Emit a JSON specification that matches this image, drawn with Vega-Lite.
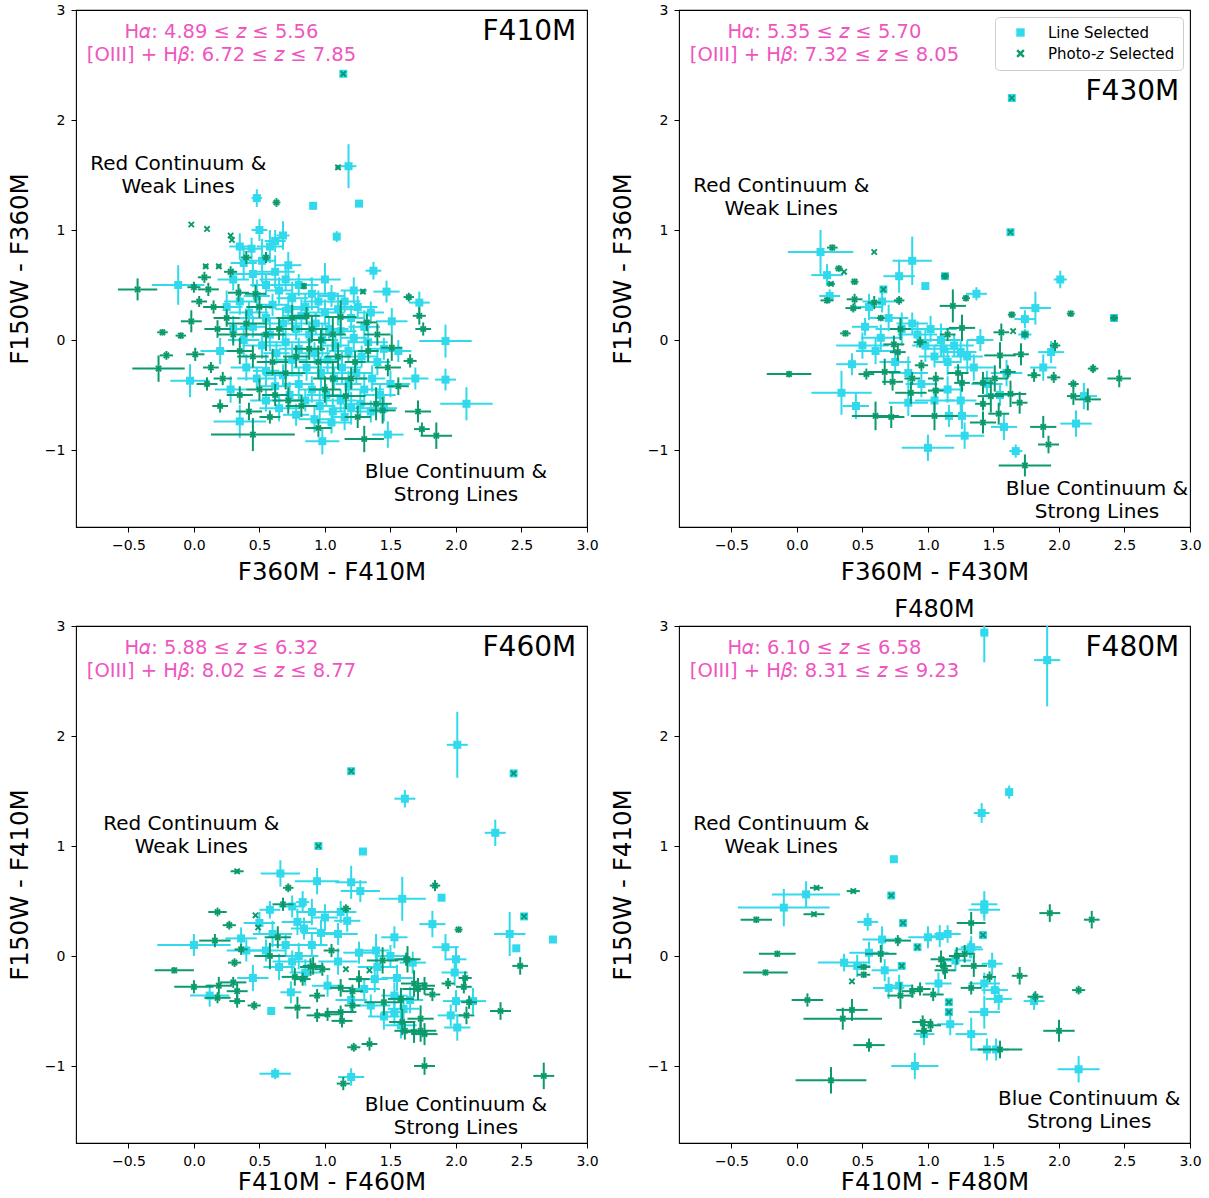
{
"$schema":"https://vega.github.io/schema/vega-lite/v6.json",
"padding":{"left":6,"top":2,"right":10,"bottom":0},
"background":"white",
"datasets":{
"pts":[
{"p":1,"t":"L","x":1.14,"y":2.42,"xe":0.02,"ye":0.03},
{"p":1,"t":"L","x":1.18,"y":1.58,"xe":0.06,"ye":0.2},
{"p":1,"t":"L","x":0.48,"y":1.29,"xe":0.04,"ye":0.08},
{"p":1,"t":"L","x":0.91,"y":1.22,"xe":0,"ye":0},
{"p":1,"t":"L","x":1.26,"y":1.24,"xe":0.02,"ye":0.03},
{"p":1,"t":"L","x":1.09,"y":0.94,"xe":0.02,"ye":0.05},
{"p":1,"t":"L","x":0.68,"y":0.95,"xe":0.05,"ye":0.13},
{"p":1,"t":"L","x":0.44,"y":0.83,"xe":0.08,"ye":0.1},
{"p":1,"t":"L","x":1.37,"y":0.63,"xe":0.06,"ye":0.08},
{"p":1,"t":"L","x":0.72,"y":0.68,"xe":0.1,"ye":0.12},
{"p":1,"t":"L","x":-0.12,"y":0.5,"xe":0.2,"ye":0.18},
{"p":1,"t":"L","x":1.47,"y":0.44,"xe":0.1,"ye":0.1},
{"p":1,"t":"L","x":1.72,"y":0.34,"xe":0.08,"ye":0.1},
{"p":1,"t":"L","x":1.51,"y":0.17,"xe":0.12,"ye":0.12},
{"p":1,"t":"L","x":1.92,"y":-0.01,"xe":0.2,"ye":0.15},
{"p":1,"t":"L","x":1.56,"y":-0.1,"xe":0.1,"ye":0.1},
{"p":1,"t":"L","x":1.69,"y":-0.35,"xe":0.1,"ye":0.1},
{"p":1,"t":"L","x":1.92,"y":-0.36,"xe":0.08,"ye":0.1},
{"p":1,"t":"L","x":2.08,"y":-0.58,"xe":0.2,"ye":0.15},
{"p":1,"t":"L","x":1.48,"y":-0.86,"xe":0.12,"ye":0.12},
{"p":1,"t":"L","x":0.98,"y":-0.92,"xe":0.13,"ye":0.12},
{"p":1,"t":"L","x":-0.03,"y":-0.37,"xe":0.15,"ye":0.15},
{"p":1,"t":"L","x":0.35,"y":-0.74,"xe":0.2,"ye":0.15},
{"p":1,"t":"L","x":0.30,"y":0.55,"xe":0.12,"ye":0.1},
{"p":1,"t":"L","x":0.38,"y":0.70,"xe":0.1,"ye":0.15},
{"p":1,"t":"L","x":0.45,"y":0.60,"xe":0.15,"ye":0.12},
{"p":1,"t":"L","x":0.52,"y":0.72,"xe":0.1,"ye":0.2},
{"p":1,"t":"L","x":0.55,"y":0.50,"xe":0.12,"ye":0.1},
{"p":1,"t":"L","x":0.62,"y":0.62,"xe":0.15,"ye":0.15},
{"p":1,"t":"L","x":0.65,"y":0.45,"xe":0.1,"ye":0.12},
{"p":1,"t":"L","x":0.70,"y":0.55,"xe":0.2,"ye":0.1},
{"p":1,"t":"L","x":0.75,"y":0.38,"xe":0.12,"ye":0.15},
{"p":1,"t":"L","x":0.80,"y":0.50,"xe":0.15,"ye":0.1},
{"p":1,"t":"L","x":0.85,"y":0.30,"xe":0.1,"ye":0.12},
{"p":1,"t":"L","x":0.90,"y":0.42,"xe":0.2,"ye":0.15},
{"p":1,"t":"L","x":0.95,"y":0.35,"xe":0.12,"ye":0.1},
{"p":1,"t":"L","x":1.00,"y":0.25,"xe":0.15,"ye":0.12},
{"p":1,"t":"L","x":1.05,"y":0.40,"xe":0.1,"ye":0.1},
{"p":1,"t":"L","x":1.10,"y":0.28,"xe":0.15,"ye":0.15},
{"p":1,"t":"L","x":1.15,"y":0.35,"xe":0.12,"ye":0.1},
{"p":1,"t":"L","x":1.20,"y":0.20,"xe":0.1,"ye":0.12},
{"p":1,"t":"L","x":1.25,"y":0.30,"xe":0.15,"ye":0.1},
{"p":1,"t":"L","x":1.30,"y":0.12,"xe":0.12,"ye":0.15},
{"p":1,"t":"L","x":1.35,"y":0.25,"xe":0.1,"ye":0.1},
{"p":1,"t":"L","x":0.35,"y":0.35,"xe":0.12,"ye":0.12},
{"p":1,"t":"L","x":0.42,"y":0.25,"xe":0.15,"ye":0.1},
{"p":1,"t":"L","x":0.48,"y":0.40,"xe":0.1,"ye":0.15},
{"p":1,"t":"L","x":0.55,"y":0.20,"xe":0.2,"ye":0.12},
{"p":1,"t":"L","x":0.60,"y":0.32,"xe":0.12,"ye":0.1},
{"p":1,"t":"L","x":0.68,"y":0.15,"xe":0.15,"ye":0.15},
{"p":1,"t":"L","x":0.72,"y":0.28,"xe":0.1,"ye":0.12},
{"p":1,"t":"L","x":0.78,"y":0.10,"xe":0.12,"ye":0.1},
{"p":1,"t":"L","x":0.82,"y":0.22,"xe":0.15,"ye":0.15},
{"p":1,"t":"L","x":0.88,"y":0.05,"xe":0.2,"ye":0.12},
{"p":1,"t":"L","x":0.93,"y":0.15,"xe":0.1,"ye":0.1},
{"p":1,"t":"L","x":0.98,"y":0.00,"xe":0.12,"ye":0.15},
{"p":1,"t":"L","x":1.03,"y":0.10,"xe":0.15,"ye":0.1},
{"p":1,"t":"L","x":1.08,"y":-0.05,"xe":0.1,"ye":0.12},
{"p":1,"t":"L","x":1.12,"y":0.08,"xe":0.12,"ye":0.15},
{"p":1,"t":"L","x":1.18,"y":-0.10,"xe":0.15,"ye":0.1},
{"p":1,"t":"L","x":1.22,"y":0.02,"xe":0.1,"ye":0.12},
{"p":1,"t":"L","x":1.28,"y":-0.15,"xe":0.12,"ye":0.1},
{"p":1,"t":"L","x":1.33,"y":-0.02,"xe":0.15,"ye":0.15},
{"p":1,"t":"L","x":1.40,"y":-0.20,"xe":0.1,"ye":0.12},
{"p":1,"t":"L","x":1.45,"y":-0.08,"xe":0.12,"ye":0.1},
{"p":1,"t":"L","x":0.30,"y":0.10,"xe":0.15,"ye":0.12},
{"p":1,"t":"L","x":0.38,"y":0.00,"xe":0.12,"ye":0.15},
{"p":1,"t":"L","x":0.45,"y":0.12,"xe":0.1,"ye":0.1},
{"p":1,"t":"L","x":0.52,"y":-0.05,"xe":0.15,"ye":0.12},
{"p":1,"t":"L","x":0.58,"y":0.05,"xe":0.12,"ye":0.15},
{"p":1,"t":"L","x":0.63,"y":-0.12,"xe":0.1,"ye":0.1},
{"p":1,"t":"L","x":0.70,"y":-0.02,"xe":0.2,"ye":0.12},
{"p":1,"t":"L","x":0.75,"y":-0.18,"xe":0.12,"ye":0.15},
{"p":1,"t":"L","x":0.80,"y":-0.08,"xe":0.15,"ye":0.1},
{"p":1,"t":"L","x":0.86,"y":-0.25,"xe":0.1,"ye":0.12},
{"p":1,"t":"L","x":0.92,"y":-0.12,"xe":0.12,"ye":0.1},
{"p":1,"t":"L","x":0.97,"y":-0.30,"xe":0.15,"ye":0.15},
{"p":1,"t":"L","x":1.02,"y":-0.18,"xe":0.1,"ye":0.12},
{"p":1,"t":"L","x":1.07,"y":-0.35,"xe":0.12,"ye":0.1},
{"p":1,"t":"L","x":1.13,"y":-0.25,"xe":0.15,"ye":0.15},
{"p":1,"t":"L","x":1.18,"y":-0.40,"xe":0.1,"ye":0.12},
{"p":1,"t":"L","x":1.24,"y":-0.30,"xe":0.12,"ye":0.1},
{"p":1,"t":"L","x":1.30,"y":-0.45,"xe":0.15,"ye":0.15},
{"p":1,"t":"L","x":1.36,"y":-0.35,"xe":0.1,"ye":0.12},
{"p":1,"t":"L","x":1.42,"y":-0.50,"xe":0.12,"ye":0.1},
{"p":1,"t":"L","x":1.50,"y":-0.40,"xe":0.15,"ye":0.12},
{"p":1,"t":"L","x":0.40,"y":-0.25,"xe":0.12,"ye":0.12},
{"p":1,"t":"L","x":0.48,"y":-0.35,"xe":0.15,"ye":0.1},
{"p":1,"t":"L","x":0.55,"y":-0.28,"xe":0.1,"ye":0.15},
{"p":1,"t":"L","x":0.62,"y":-0.42,"xe":0.12,"ye":0.12},
{"p":1,"t":"L","x":0.68,"y":-0.32,"xe":0.15,"ye":0.1},
{"p":1,"t":"L","x":0.73,"y":-0.50,"xe":0.1,"ye":0.12},
{"p":1,"t":"L","x":0.80,"y":-0.40,"xe":0.12,"ye":0.15},
{"p":1,"t":"L","x":0.85,"y":-0.55,"xe":0.15,"ye":0.1},
{"p":1,"t":"L","x":0.90,"y":-0.45,"xe":0.1,"ye":0.12},
{"p":1,"t":"L","x":0.96,"y":-0.60,"xe":0.12,"ye":0.15},
{"p":1,"t":"L","x":1.01,"y":-0.50,"xe":0.15,"ye":0.1},
{"p":1,"t":"L","x":1.06,"y":-0.65,"xe":0.1,"ye":0.12},
{"p":1,"t":"L","x":1.12,"y":-0.55,"xe":0.12,"ye":0.1},
{"p":1,"t":"L","x":1.20,"y":-0.62,"xe":0.15,"ye":0.15},
{"p":1,"t":"L","x":1.27,"y":-0.58,"xe":0.1,"ye":0.12},
{"p":1,"t":"L","x":1.35,"y":-0.65,"xe":0.12,"ye":0.1},
{"p":1,"t":"L","x":1.45,"y":-0.62,"xe":0.1,"ye":0.12},
{"p":1,"t":"L","x":0.55,"y":-0.55,"xe":0.12,"ye":0.1},
{"p":1,"t":"L","x":0.65,"y":-0.62,"xe":0.15,"ye":0.12},
{"p":1,"t":"L","x":0.78,"y":-0.68,"xe":0.1,"ye":0.1},
{"p":1,"t":"L","x":0.92,"y":-0.72,"xe":0.12,"ye":0.12},
{"p":1,"t":"L","x":1.05,"y":-0.75,"xe":0.15,"ye":0.1},
{"p":1,"t":"L","x":1.15,"y":-0.70,"xe":0.1,"ye":0.12},
{"p":1,"t":"L","x":0.35,"y":0.85,"xe":0.08,"ye":0.12},
{"p":1,"t":"L","x":0.58,"y":0.85,"xe":0.1,"ye":0.15},
{"p":1,"t":"L","x":0.25,"y":0.30,"xe":0.12,"ye":0.15},
{"p":1,"t":"L","x":0.20,"y":-0.10,"xe":0.15,"ye":0.12},
{"p":1,"t":"L","x":0.28,"y":-0.45,"xe":0.12,"ye":0.12},
{"p":1,"t":"L","x":0.62,"y":0.90,"xe":0.08,"ye":0.1},
{"p":1,"t":"L","x":0.50,"y":1.00,"xe":0.06,"ye":0.1},
{"p":1,"t":"L","x":1.00,"y":0.55,"xe":0.12,"ye":0.15},
{"p":1,"t":"L","x":1.22,"y":0.45,"xe":0.1,"ye":0.12},
{"p":1,"t":"P","x":1.14,"y":2.42,"xe":0.01,"ye":0.01},
{"p":1,"t":"P","x":1.10,"y":1.57,"xe":0.02,"ye":0.02},
{"p":1,"t":"P","x":0.63,"y":1.25,"xe":0.03,"ye":0.04},
{"p":1,"t":"P","x":-0.02,"y":1.05,"xe":0,"ye":0},
{"p":1,"t":"P","x":0.10,"y":1.01,"xe":0,"ye":0},
{"p":1,"t":"P","x":0.28,"y":0.95,"xe":0,"ye":0},
{"p":1,"t":"P","x":0.29,"y":0.91,"xe":0,"ye":0},
{"p":1,"t":"P","x":0.55,"y":0.75,"xe":0.03,"ye":0.05},
{"p":1,"t":"P","x":0.09,"y":0.67,"xe":0.02,"ye":0.02},
{"p":1,"t":"P","x":0.19,"y":0.67,"xe":0.02,"ye":0.02},
{"p":1,"t":"P","x":-0.43,"y":0.46,"xe":0.15,"ye":0.1},
{"p":1,"t":"P","x":0.08,"y":0.57,"xe":0.05,"ye":0.05},
{"p":1,"t":"P","x":0.00,"y":0.48,"xe":0.05,"ye":0.05},
{"p":1,"t":"P","x":0.11,"y":0.46,"xe":0.08,"ye":0.06},
{"p":1,"t":"P","x":0.34,"y":0.43,"xe":0.08,"ye":0.08},
{"p":1,"t":"P","x":0.47,"y":0.42,"xe":0.08,"ye":0.08},
{"p":1,"t":"P","x":0.04,"y":0.35,"xe":0.06,"ye":0.05},
{"p":1,"t":"P","x":-0.02,"y":0.17,"xe":0.08,"ye":0.1},
{"p":1,"t":"P","x":-0.24,"y":0.07,"xe":0.04,"ye":0.03},
{"p":1,"t":"P","x":-0.10,"y":0.04,"xe":0.04,"ye":0.03},
{"p":1,"t":"P","x":-0.21,"y":-0.14,"xe":0.05,"ye":0.04},
{"p":1,"t":"P","x":0.01,"y":-0.13,"xe":0.07,"ye":0.06},
{"p":1,"t":"P","x":-0.27,"y":-0.26,"xe":0.2,"ye":0.12},
{"p":1,"t":"P","x":0.13,"y":-0.25,"xe":0.06,"ye":0.05},
{"p":1,"t":"P","x":0.22,"y":-0.35,"xe":0.07,"ye":0.06},
{"p":1,"t":"P","x":0.42,"y":-0.65,"xe":0.1,"ye":0.08},
{"p":1,"t":"P","x":0.45,"y":-0.86,"xe":0.32,"ye":0.15},
{"p":1,"t":"P","x":1.29,"y":0.44,"xe":0.02,"ye":0.02},
{"p":1,"t":"P","x":1.64,"y":0.39,"xe":0.04,"ye":0.04},
{"p":1,"t":"P","x":1.72,"y":0.22,"xe":0.05,"ye":0.08},
{"p":1,"t":"P","x":1.75,"y":0.10,"xe":0.06,"ye":0.06},
{"p":1,"t":"P","x":1.32,"y":0.16,"xe":0.08,"ye":0.08},
{"p":1,"t":"P","x":1.51,"y":-0.07,"xe":0.08,"ye":0.12},
{"p":1,"t":"P","x":1.65,"y":-0.19,"xe":0.05,"ye":0.06},
{"p":1,"t":"P","x":1.56,"y":-0.42,"xe":0.08,"ye":0.08},
{"p":1,"t":"P","x":1.71,"y":-0.65,"xe":0.1,"ye":0.1},
{"p":1,"t":"P","x":1.74,"y":-0.81,"xe":0.06,"ye":0.06},
{"p":1,"t":"P","x":1.85,"y":-0.87,"xe":0.12,"ye":0.12},
{"p":1,"t":"P","x":1.30,"y":-0.90,"xe":0.15,"ye":0.12},
{"p":1,"t":"P","x":1.44,"y":-0.64,"xe":0.1,"ye":0.12},
{"p":1,"t":"P","x":1.33,"y":-0.10,"xe":0.08,"ye":0.1},
{"p":1,"t":"P","x":1.23,"y":-0.20,"xe":0.08,"ye":0.1},
{"p":1,"t":"P","x":1.12,"y":0.21,"xe":0.12,"ye":0.15},
{"p":1,"t":"P","x":0.84,"y":0.49,"xe":0.02,"ye":0.03},
{"p":1,"t":"P","x":1.06,"y":0.05,"xe":0.1,"ye":0.15},
{"p":1,"t":"P","x":0.97,"y":0.00,"xe":0.08,"ye":0.1},
{"p":1,"t":"P","x":0.88,"y":-0.08,"xe":0.12,"ye":0.1},
{"p":1,"t":"P","x":0.86,"y":0.22,"xe":0.1,"ye":0.08},
{"p":1,"t":"P","x":1.06,"y":-0.35,"xe":0.15,"ye":0.15},
{"p":1,"t":"P","x":1.16,"y":-0.51,"xe":0.15,"ye":0.12},
{"p":1,"t":"P","x":1.39,"y":-0.58,"xe":0.12,"ye":0.15},
{"p":1,"t":"P","x":0.82,"y":-0.60,"xe":0.12,"ye":0.1},
{"p":1,"t":"P","x":0.25,"y":0.20,"xe":0.1,"ye":0.08},
{"p":1,"t":"P","x":0.30,"y":0.05,"xe":0.12,"ye":0.1},
{"p":1,"t":"P","x":0.35,"y":-0.10,"xe":0.1,"ye":0.12},
{"p":1,"t":"P","x":0.40,"y":0.15,"xe":0.15,"ye":0.12},
{"p":1,"t":"P","x":0.45,"y":-0.15,"xe":0.12,"ye":0.1},
{"p":1,"t":"P","x":0.50,"y":0.30,"xe":0.1,"ye":0.1},
{"p":1,"t":"P","x":0.55,"y":0.05,"xe":0.15,"ye":0.15},
{"p":1,"t":"P","x":0.60,"y":-0.20,"xe":0.12,"ye":0.12},
{"p":1,"t":"P","x":0.65,"y":0.10,"xe":0.1,"ye":0.1},
{"p":1,"t":"P","x":0.70,"y":-0.30,"xe":0.15,"ye":0.15},
{"p":1,"t":"P","x":0.75,"y":0.20,"xe":0.12,"ye":0.12},
{"p":1,"t":"P","x":0.78,"y":-0.15,"xe":0.1,"ye":0.1},
{"p":1,"t":"P","x":0.90,"y":0.10,"xe":0.12,"ye":0.12},
{"p":1,"t":"P","x":0.95,"y":-0.20,"xe":0.15,"ye":0.15},
{"p":1,"t":"P","x":1.00,"y":-0.45,"xe":0.12,"ye":0.12},
{"p":1,"t":"P","x":1.10,"y":-0.15,"xe":0.1,"ye":0.12},
{"p":1,"t":"P","x":1.20,"y":-0.35,"xe":0.12,"ye":0.1},
{"p":1,"t":"P","x":0.62,"y":-0.50,"xe":0.1,"ye":0.1},
{"p":1,"t":"P","x":0.72,"y":-0.55,"xe":0.12,"ye":0.12},
{"p":1,"t":"P","x":0.50,"y":-0.45,"xe":0.1,"ye":0.1},
{"p":1,"t":"P","x":0.35,"y":-0.50,"xe":0.1,"ye":0.08},
{"p":1,"t":"P","x":0.20,"y":-0.60,"xe":0.06,"ye":0.06},
{"p":1,"t":"P","x":0.28,"y":0.62,"xe":0.05,"ye":0.05},
{"p":1,"t":"P","x":0.40,"y":0.75,"xe":0.04,"ye":0.06},
{"p":1,"t":"P","x":0.15,"y":0.30,"xe":0.08,"ye":0.06},
{"p":1,"t":"P","x":0.18,"y":0.10,"xe":0.1,"ye":0.08},
{"p":1,"t":"P","x":0.10,"y":-0.40,"xe":0.08,"ye":0.06},
{"p":1,"t":"P","x":1.40,"y":0.05,"xe":0.1,"ye":0.1},
{"p":1,"t":"P","x":1.48,"y":-0.25,"xe":0.1,"ye":0.08},
{"p":1,"t":"P","x":1.25,"y":-0.70,"xe":0.1,"ye":0.1},
{"p":1,"t":"P","x":0.95,"y":-0.80,"xe":0.1,"ye":0.08},
{"p":1,"t":"P","x":0.58,"y":-0.70,"xe":0.08,"ye":0.06},
{"p":2,"t":"L","x":1.64,"y":2.20,"xe":0.02,"ye":0.03},
{"p":2,"t":"L","x":1.63,"y":0.98,"xe":0.02,"ye":0.02},
{"p":2,"t":"L","x":0.18,"y":0.80,"xe":0.25,"ye":0.2},
{"p":2,"t":"L","x":0.88,"y":0.72,"xe":0.15,"ye":0.22},
{"p":2,"t":"L","x":0.23,"y":0.59,"xe":0.12,"ye":0.1},
{"p":2,"t":"L","x":0.78,"y":0.58,"xe":0.12,"ye":0.15},
{"p":2,"t":"L","x":1.13,"y":0.58,"xe":0.02,"ye":0.02},
{"p":2,"t":"L","x":0.98,"y":0.49,"xe":0,"ye":0},
{"p":2,"t":"L","x":0.66,"y":0.46,"xe":0.02,"ye":0.02},
{"p":2,"t":"L","x":2.01,"y":0.55,"xe":0.05,"ye":0.08},
{"p":2,"t":"L","x":1.37,"y":0.42,"xe":0.08,"ye":0.06},
{"p":2,"t":"L","x":1.82,"y":0.29,"xe":0.12,"ye":0.15},
{"p":2,"t":"L","x":2.42,"y":0.20,"xe":0.02,"ye":0.02},
{"p":2,"t":"L","x":1.74,"y":0.19,"xe":0.08,"ye":0.08},
{"p":2,"t":"L","x":0.52,"y":0.12,"xe":0.1,"ye":0.08},
{"p":2,"t":"L","x":1.74,"y":0.05,"xe":0.05,"ye":0.05},
{"p":2,"t":"L","x":0.64,"y":0.02,"xe":0.15,"ye":0.12},
{"p":2,"t":"L","x":1.12,"y":-0.08,"xe":0.15,"ye":0.12},
{"p":2,"t":"L","x":1.25,"y":-0.11,"xe":0.12,"ye":0.1},
{"p":2,"t":"L","x":1.94,"y":-0.11,"xe":0.1,"ye":0.1},
{"p":2,"t":"L","x":1.88,"y":-0.25,"xe":0.1,"ye":0.12},
{"p":2,"t":"L","x":2.19,"y":-0.51,"xe":0.1,"ye":0.12},
{"p":2,"t":"L","x":0.42,"y":-0.22,"xe":0.12,"ye":0.1},
{"p":2,"t":"L","x":0.34,"y":-0.48,"xe":0.23,"ye":0.2},
{"p":2,"t":"L","x":0.85,"y":-0.57,"xe":0.15,"ye":0.12},
{"p":2,"t":"L","x":1.25,"y":-0.55,"xe":0.12,"ye":0.15},
{"p":2,"t":"L","x":1.26,"y":-0.69,"xe":0.12,"ye":0.12},
{"p":2,"t":"L","x":1.58,"y":-0.79,"xe":0.1,"ye":0.12},
{"p":2,"t":"L","x":2.13,"y":-0.76,"xe":0.12,"ye":0.12},
{"p":2,"t":"L","x":1.28,"y":-0.87,"xe":0.15,"ye":0.12},
{"p":2,"t":"L","x":1.00,"y":-0.98,"xe":0.2,"ye":0.12},
{"p":2,"t":"L","x":1.67,"y":-1.01,"xe":0.05,"ye":0.06},
{"p":2,"t":"L","x":1.16,"y":-0.69,"xe":0.1,"ye":0.1},
{"p":2,"t":"L","x":0.25,"y":0.40,"xe":0.08,"ye":0.06},
{"p":2,"t":"L","x":0.70,"y":0.20,"xe":0.15,"ye":0.12},
{"p":2,"t":"L","x":0.80,"y":0.10,"xe":0.2,"ye":0.15},
{"p":2,"t":"L","x":0.88,"y":0.15,"xe":0.12,"ye":0.1},
{"p":2,"t":"L","x":0.92,"y":0.05,"xe":0.15,"ye":0.12},
{"p":2,"t":"L","x":0.98,"y":-0.05,"xe":0.1,"ye":0.15},
{"p":2,"t":"L","x":1.02,"y":0.10,"xe":0.2,"ye":0.12},
{"p":2,"t":"L","x":1.05,"y":-0.15,"xe":0.12,"ye":0.1},
{"p":2,"t":"L","x":1.10,"y":0.00,"xe":0.15,"ye":0.15},
{"p":2,"t":"L","x":1.15,"y":-0.20,"xe":0.1,"ye":0.12},
{"p":2,"t":"L","x":1.20,"y":-0.05,"xe":0.15,"ye":0.1},
{"p":2,"t":"L","x":1.30,"y":-0.15,"xe":0.12,"ye":0.15},
{"p":2,"t":"L","x":1.35,"y":-0.25,"xe":0.15,"ye":0.12},
{"p":2,"t":"L","x":1.40,"y":0.00,"xe":0.1,"ye":0.1},
{"p":2,"t":"L","x":1.45,"y":-0.40,"xe":0.12,"ye":0.12},
{"p":2,"t":"L","x":0.60,"y":-0.10,"xe":0.15,"ye":0.12},
{"p":2,"t":"L","x":0.75,"y":-0.20,"xe":0.12,"ye":0.1},
{"p":2,"t":"L","x":0.85,"y":-0.30,"xe":0.15,"ye":0.15},
{"p":2,"t":"L","x":0.95,"y":-0.40,"xe":0.12,"ye":0.12},
{"p":2,"t":"L","x":1.05,"y":-0.55,"xe":0.15,"ye":0.1},
{"p":2,"t":"L","x":1.15,"y":-0.45,"xe":0.12,"ye":0.12},
{"p":2,"t":"L","x":0.50,"y":-0.05,"xe":0.2,"ye":0.12},
{"p":2,"t":"L","x":0.65,"y":0.35,"xe":0.15,"ye":0.1},
{"p":2,"t":"L","x":0.55,"y":0.30,"xe":0.1,"ye":0.12},
{"p":2,"t":"L","x":1.55,"y":-0.50,"xe":0.12,"ye":0.1},
{"p":2,"t":"L","x":1.60,"y":-0.30,"xe":0.12,"ye":0.12},
{"p":2,"t":"L","x":0.45,"y":-0.60,"xe":0.1,"ye":0.12},
{"p":2,"t":"P","x":1.64,"y":2.20,"xe":0,"ye":0},
{"p":2,"t":"P","x":1.63,"y":0.98,"xe":0,"ye":0},
{"p":2,"t":"P","x":0.27,"y":0.84,"xe":0.04,"ye":0.03},
{"p":2,"t":"P","x":0.59,"y":0.80,"xe":0,"ye":0},
{"p":2,"t":"P","x":0.32,"y":0.65,"xe":0.03,"ye":0.03},
{"p":2,"t":"P","x":0.36,"y":0.62,"xe":0,"ye":0},
{"p":2,"t":"P","x":0.44,"y":0.53,"xe":0.03,"ye":0.03},
{"p":2,"t":"P","x":1.13,"y":0.58,"xe":0.03,"ye":0.03},
{"p":2,"t":"P","x":0.26,"y":0.51,"xe":0.03,"ye":0.02},
{"p":2,"t":"P","x":0.66,"y":0.46,"xe":0,"ye":0},
{"p":2,"t":"P","x":1.29,"y":0.38,"xe":0.03,"ye":0.03},
{"p":2,"t":"P","x":0.23,"y":0.36,"xe":0.05,"ye":0.03},
{"p":2,"t":"P","x":0.44,"y":0.37,"xe":0.06,"ye":0.05},
{"p":2,"t":"P","x":0.43,"y":0.29,"xe":0.06,"ye":0.04},
{"p":2,"t":"P","x":0.59,"y":0.34,"xe":0.05,"ye":0.06},
{"p":2,"t":"P","x":0.78,"y":0.36,"xe":0.04,"ye":0.04},
{"p":2,"t":"P","x":1.19,"y":0.31,"xe":0.1,"ye":0.15},
{"p":2,"t":"P","x":2.09,"y":0.24,"xe":0.03,"ye":0.03},
{"p":2,"t":"P","x":2.42,"y":0.20,"xe":0.03,"ye":0.03},
{"p":2,"t":"P","x":1.64,"y":0.23,"xe":0.03,"ye":0.03},
{"p":2,"t":"P","x":0.64,"y":0.20,"xe":0.03,"ye":0.03},
{"p":2,"t":"P","x":1.26,"y":0.11,"xe":0.1,"ye":0.12},
{"p":2,"t":"P","x":1.56,"y":0.07,"xe":0.06,"ye":0.08},
{"p":2,"t":"P","x":1.65,"y":0.08,"xe":0,"ye":0},
{"p":2,"t":"P","x":1.74,"y":0.05,"xe":0.03,"ye":0.03},
{"p":2,"t":"P","x":0.37,"y":0.06,"xe":0.04,"ye":0.03},
{"p":2,"t":"P","x":0.79,"y":0.10,"xe":0.08,"ye":0.1},
{"p":2,"t":"P","x":1.15,"y":0.05,"xe":0.06,"ye":0.06},
{"p":2,"t":"P","x":0.74,"y":-0.04,"xe":0.08,"ye":0.08},
{"p":2,"t":"P","x":0.77,"y":-0.11,"xe":0.06,"ye":0.08},
{"p":2,"t":"P","x":0.94,"y":-0.02,"xe":0.05,"ye":0.05},
{"p":2,"t":"P","x":1.97,"y":-0.05,"xe":0.04,"ye":0.05},
{"p":2,"t":"P","x":1.55,"y":-0.14,"xe":0.12,"ye":0.12},
{"p":2,"t":"P","x":1.71,"y":-0.13,"xe":0.06,"ye":0.1},
{"p":2,"t":"P","x":1.96,"y":-0.34,"xe":0.05,"ye":0.05},
{"p":2,"t":"P","x":2.26,"y":-0.26,"xe":0.04,"ye":0.04},
{"p":2,"t":"P","x":2.46,"y":-0.35,"xe":0.09,"ye":0.08},
{"p":2,"t":"P","x":2.11,"y":-0.40,"xe":0.04,"ye":0.04},
{"p":2,"t":"P","x":2.11,"y":-0.51,"xe":0.05,"ye":0.08},
{"p":2,"t":"P","x":2.22,"y":-0.54,"xe":0.1,"ye":0.1},
{"p":2,"t":"P","x":-0.06,"y":-0.31,"xe":0.17,"ye":0.03},
{"p":2,"t":"P","x":0.53,"y":-0.31,"xe":0.06,"ye":0.05},
{"p":2,"t":"P","x":0.67,"y":-0.29,"xe":0.12,"ye":0.12},
{"p":2,"t":"P","x":0.73,"y":-0.38,"xe":0.08,"ye":0.08},
{"p":2,"t":"P","x":0.88,"y":-0.35,"xe":0.06,"ye":0.06},
{"p":2,"t":"P","x":0.95,"y":-0.23,"xe":0.05,"ye":0.05},
{"p":2,"t":"P","x":1.06,"y":-0.35,"xe":0.06,"ye":0.06},
{"p":2,"t":"P","x":1.23,"y":-0.30,"xe":0.08,"ye":0.08},
{"p":2,"t":"P","x":1.26,"y":-0.39,"xe":0.06,"ye":0.08},
{"p":2,"t":"P","x":1.42,"y":-0.39,"xe":0.08,"ye":0.1},
{"p":2,"t":"P","x":1.51,"y":-0.35,"xe":0.1,"ye":0.12},
{"p":2,"t":"P","x":1.61,"y":-0.29,"xe":0.06,"ye":0.06},
{"p":2,"t":"P","x":1.81,"y":-0.32,"xe":0.05,"ye":0.06},
{"p":2,"t":"P","x":0.87,"y":-0.48,"xe":0.12,"ye":0.1},
{"p":2,"t":"P","x":1.06,"y":-0.46,"xe":0.06,"ye":0.06},
{"p":2,"t":"P","x":1.48,"y":-0.51,"xe":0.1,"ye":0.15},
{"p":2,"t":"P","x":1.63,"y":-0.49,"xe":0.12,"ye":0.12},
{"p":2,"t":"P","x":1.70,"y":-0.57,"xe":0.06,"ye":0.1},
{"p":2,"t":"P","x":1.42,"y":-0.58,"xe":0.06,"ye":0.06},
{"p":2,"t":"P","x":0.60,"y":-0.69,"xe":0.18,"ye":0.13},
{"p":2,"t":"P","x":0.72,"y":-0.70,"xe":0.1,"ye":0.1},
{"p":2,"t":"P","x":1.05,"y":-0.69,"xe":0.18,"ye":0.13},
{"p":2,"t":"P","x":1.42,"y":-0.75,"xe":0.1,"ye":0.1},
{"p":2,"t":"P","x":1.54,"y":-0.67,"xe":0.08,"ye":0.1},
{"p":2,"t":"P","x":1.88,"y":-0.79,"xe":0.1,"ye":0.1},
{"p":2,"t":"P","x":1.92,"y":-0.95,"xe":0.08,"ye":0.08},
{"p":2,"t":"P","x":1.74,"y":-1.14,"xe":0.2,"ye":0.1},
{"p":3,"t":"L","x":2.01,"y":1.92,"xe":0.08,"ye":0.3},
{"p":3,"t":"L","x":1.20,"y":1.68,"xe":0.02,"ye":0.02},
{"p":3,"t":"L","x":2.44,"y":1.66,"xe":0.02,"ye":0.02},
{"p":3,"t":"L","x":1.61,"y":1.43,"xe":0.08,"ye":0.08},
{"p":3,"t":"L","x":2.30,"y":1.12,"xe":0.08,"ye":0.12},
{"p":3,"t":"L","x":0.95,"y":1.00,"xe":0.02,"ye":0.02},
{"p":3,"t":"L","x":1.29,"y":0.95,"xe":0,"ye":0},
{"p":3,"t":"L","x":1.89,"y":0.53,"xe":0,"ye":0},
{"p":3,"t":"L","x":1.59,"y":0.52,"xe":0.18,"ye":0.2},
{"p":3,"t":"L","x":2.52,"y":0.36,"xe":0.03,"ye":0.03},
{"p":3,"t":"L","x":2.74,"y":0.15,"xe":0,"ye":0},
{"p":3,"t":"L","x":2.41,"y":0.20,"xe":0.12,"ye":0.2},
{"p":3,"t":"L","x":2.46,"y":0.07,"xe":0,"ye":0},
{"p":3,"t":"L","x":0.66,"y":0.75,"xe":0.15,"ye":0.12},
{"p":3,"t":"L","x":0.94,"y":0.68,"xe":0.17,"ye":0.12},
{"p":3,"t":"L","x":1.20,"y":0.67,"xe":0.12,"ye":0.15},
{"p":3,"t":"L","x":1.27,"y":0.59,"xe":0.15,"ye":0.1},
{"p":3,"t":"L","x":0.58,"y":0.42,"xe":0.08,"ye":0.08},
{"p":3,"t":"L","x":0.83,"y":0.49,"xe":0.05,"ye":0.1},
{"p":3,"t":"L","x":0.00,"y":0.10,"xe":0.28,"ye":0.1},
{"p":3,"t":"L","x":0.36,"y":0.16,"xe":0.12,"ye":0.1},
{"p":3,"t":"L","x":0.12,"y":-0.36,"xe":0.15,"ye":0.1},
{"p":3,"t":"L","x":0.59,"y":-0.50,"xe":0,"ye":0},
{"p":3,"t":"L","x":0.74,"y":-0.33,"xe":0.08,"ye":0.1},
{"p":3,"t":"L","x":0.62,"y":-1.07,"xe":0.12,"ye":0.05},
{"p":3,"t":"L","x":1.20,"y":-1.10,"xe":0.1,"ye":0.08},
{"p":3,"t":"L","x":1.12,"y":0.40,"xe":0.12,"ye":0.1},
{"p":3,"t":"L","x":1.17,"y":0.32,"xe":0.1,"ye":0.1},
{"p":3,"t":"L","x":0.79,"y":0.31,"xe":0.12,"ye":0.12},
{"p":3,"t":"L","x":0.84,"y":0.25,"xe":0.1,"ye":0.1},
{"p":3,"t":"L","x":0.97,"y":0.21,"xe":0.15,"ye":0.12},
{"p":3,"t":"L","x":1.26,"y":0.03,"xe":0.12,"ye":0.1},
{"p":3,"t":"L","x":1.39,"y":0.05,"xe":0.1,"ye":0.15},
{"p":3,"t":"L","x":1.53,"y":0.17,"xe":0.1,"ye":0.1},
{"p":3,"t":"L","x":1.38,"y":-0.21,"xe":0.1,"ye":0.12},
{"p":3,"t":"L","x":1.02,"y":-0.27,"xe":0.12,"ye":0.1},
{"p":3,"t":"L","x":1.82,"y":0.29,"xe":0.1,"ye":0.12},
{"p":3,"t":"L","x":1.92,"y":0.08,"xe":0.1,"ye":0.12},
{"p":3,"t":"L","x":2.00,"y":-0.03,"xe":0.08,"ye":0.12},
{"p":3,"t":"L","x":1.99,"y":-0.15,"xe":0.1,"ye":0.12},
{"p":3,"t":"L","x":2.13,"y":-0.41,"xe":0.1,"ye":0.12},
{"p":3,"t":"L","x":2.00,"y":-0.41,"xe":0.1,"ye":0.1},
{"p":3,"t":"L","x":1.96,"y":-0.54,"xe":0.1,"ye":0.1},
{"p":3,"t":"L","x":2.01,"y":-0.65,"xe":0.1,"ye":0.12},
{"p":3,"t":"L","x":1.53,"y":-0.36,"xe":0.1,"ye":0.12},
{"p":3,"t":"L","x":1.60,"y":-0.48,"xe":0.12,"ye":0.1},
{"p":3,"t":"L","x":1.67,"y":-0.06,"xe":0.1,"ye":0.1},
{"p":3,"t":"L","x":1.53,"y":-0.51,"xe":0.1,"ye":0.12},
{"p":3,"t":"L","x":1.58,"y":-0.63,"xe":0.12,"ye":0.12},
{"p":3,"t":"L","x":0.50,"y":0.30,"xe":0.12,"ye":0.1},
{"p":3,"t":"L","x":0.60,"y":0.20,"xe":0.15,"ye":0.12},
{"p":3,"t":"L","x":0.70,"y":0.10,"xe":0.12,"ye":0.1},
{"p":3,"t":"L","x":0.80,"y":0.00,"xe":0.15,"ye":0.12},
{"p":3,"t":"L","x":0.90,"y":0.10,"xe":0.12,"ye":0.1},
{"p":3,"t":"L","x":1.00,"y":0.35,"xe":0.1,"ye":0.12},
{"p":3,"t":"L","x":0.55,"y":0.05,"xe":0.15,"ye":0.1},
{"p":3,"t":"L","x":0.65,"y":-0.10,"xe":0.12,"ye":0.12},
{"p":3,"t":"L","x":0.75,"y":-0.05,"xe":0.15,"ye":0.1},
{"p":3,"t":"L","x":0.85,"y":-0.15,"xe":0.12,"ye":0.12},
{"p":3,"t":"L","x":1.10,"y":-0.05,"xe":0.15,"ye":0.12},
{"p":3,"t":"L","x":1.30,"y":-0.30,"xe":0.12,"ye":0.1},
{"p":3,"t":"L","x":1.40,"y":-0.10,"xe":0.15,"ye":0.12},
{"p":3,"t":"L","x":1.45,"y":-0.55,"xe":0.12,"ye":0.12},
{"p":3,"t":"L","x":1.35,"y":-0.45,"xe":0.15,"ye":0.1},
{"p":3,"t":"L","x":1.20,"y":-0.40,"xe":0.12,"ye":0.12},
{"p":3,"t":"L","x":1.10,"y":0.20,"xe":0.15,"ye":0.1},
{"p":3,"t":"L","x":0.90,"y":0.40,"xe":0.12,"ye":0.12},
{"p":3,"t":"L","x":0.75,"y":0.45,"xe":0.1,"ye":0.1},
{"p":3,"t":"L","x":1.55,"y":-0.20,"xe":0.12,"ye":0.12},
{"p":3,"t":"L","x":1.65,"y":-0.40,"xe":0.1,"ye":0.12},
{"p":3,"t":"L","x":1.50,"y":0.00,"xe":0.12,"ye":0.1},
{"p":3,"t":"L","x":0.45,"y":-0.20,"xe":0.12,"ye":0.12},
{"p":3,"t":"L","x":0.40,"y":0.05,"xe":0.15,"ye":0.1},
{"p":3,"t":"P","x":1.20,"y":1.68,"xe":0,"ye":0},
{"p":3,"t":"P","x":2.44,"y":1.66,"xe":0,"ye":0},
{"p":3,"t":"P","x":0.95,"y":1.00,"xe":0,"ye":0},
{"p":3,"t":"P","x":0.33,"y":0.77,"xe":0.05,"ye":0.02},
{"p":3,"t":"P","x":1.84,"y":0.64,"xe":0.04,"ye":0.05},
{"p":3,"t":"P","x":2.52,"y":0.36,"xe":0,"ye":0},
{"p":3,"t":"P","x":2.02,"y":0.24,"xe":0.03,"ye":0.03},
{"p":3,"t":"P","x":2.49,"y":-0.09,"xe":0.06,"ye":0.08},
{"p":3,"t":"P","x":0.72,"y":0.62,"xe":0.04,"ye":0.04},
{"p":3,"t":"P","x":0.68,"y":0.47,"xe":0.08,"ye":0.06},
{"p":3,"t":"P","x":0.18,"y":0.40,"xe":0.07,"ye":0.04},
{"p":3,"t":"P","x":0.27,"y":0.28,"xe":0.05,"ye":0.04},
{"p":3,"t":"P","x":0.47,"y":0.37,"xe":0,"ye":0},
{"p":3,"t":"P","x":0.49,"y":0.26,"xe":0,"ye":0},
{"p":3,"t":"P","x":0.16,"y":0.14,"xe":0.12,"ye":0.06},
{"p":3,"t":"P","x":-0.15,"y":-0.13,"xe":0.15,"ye":0.03},
{"p":3,"t":"P","x":0.36,"y":0.06,"xe":0.05,"ye":0.05},
{"p":3,"t":"P","x":0.64,"y":0.17,"xe":0.1,"ye":0.1},
{"p":3,"t":"P","x":0.58,"y":0.00,"xe":0.12,"ye":0.12},
{"p":3,"t":"P","x":0.31,"y":-0.06,"xe":0.05,"ye":0.04},
{"p":3,"t":"P","x":0.00,"y":-0.28,"xe":0.15,"ye":0.06},
{"p":3,"t":"P","x":0.19,"y":-0.27,"xe":0.1,"ye":0.08},
{"p":3,"t":"P","x":0.30,"y":-0.24,"xe":0.1,"ye":0.05},
{"p":3,"t":"P","x":0.33,"y":-0.32,"xe":0.08,"ye":0.08},
{"p":3,"t":"P","x":0.18,"y":-0.38,"xe":0.1,"ye":0.05},
{"p":3,"t":"P","x":0.33,"y":-0.41,"xe":0.06,"ye":0.06},
{"p":3,"t":"P","x":0.46,"y":-0.45,"xe":0.05,"ye":0.04},
{"p":3,"t":"P","x":0.77,"y":-0.19,"xe":0.1,"ye":0.08},
{"p":3,"t":"P","x":0.83,"y":-0.21,"xe":0.06,"ye":0.06},
{"p":3,"t":"P","x":0.91,"y":-0.09,"xe":0.08,"ye":0.08},
{"p":3,"t":"P","x":0.98,"y":-0.12,"xe":0.06,"ye":0.06},
{"p":3,"t":"P","x":0.79,"y":-0.47,"xe":0.1,"ye":0.1},
{"p":3,"t":"P","x":0.94,"y":-0.36,"xe":0.06,"ye":0.06},
{"p":3,"t":"P","x":0.94,"y":-0.54,"xe":0.08,"ye":0.06},
{"p":3,"t":"P","x":1.02,"y":-0.53,"xe":0.08,"ye":0.06},
{"p":3,"t":"P","x":1.12,"y":-0.51,"xe":0.12,"ye":0.06},
{"p":3,"t":"P","x":1.13,"y":-0.59,"xe":0.08,"ye":0.06},
{"p":3,"t":"P","x":1.21,"y":-0.45,"xe":0.06,"ye":0.06},
{"p":3,"t":"P","x":1.16,"y":-0.12,"xe":0,"ye":0},
{"p":3,"t":"P","x":1.34,"y":-0.13,"xe":0,"ye":0},
{"p":3,"t":"P","x":1.26,"y":-0.21,"xe":0.08,"ye":0.08},
{"p":3,"t":"P","x":1.22,"y":-0.83,"xe":0.05,"ye":0.04},
{"p":3,"t":"P","x":1.34,"y":-0.80,"xe":0.06,"ye":0.06},
{"p":3,"t":"P","x":1.14,"y":-1.16,"xe":0.05,"ye":0.06},
{"p":3,"t":"P","x":1.05,"y":0.05,"xe":0.06,"ye":0.06},
{"p":3,"t":"P","x":1.16,"y":0.43,"xe":0.04,"ye":0.04},
{"p":3,"t":"P","x":1.44,"y":-0.04,"xe":0.12,"ye":0.12},
{"p":3,"t":"P","x":1.63,"y":-0.03,"xe":0.1,"ye":0.12},
{"p":3,"t":"P","x":0.89,"y":-0.10,"xe":0.08,"ye":0.08},
{"p":3,"t":"P","x":1.21,"y":-0.32,"xe":0.08,"ye":0.06},
{"p":3,"t":"P","x":1.12,"y":-0.29,"xe":0.08,"ye":0.08},
{"p":3,"t":"P","x":1.45,"y":-0.42,"xe":0.15,"ye":0.12},
{"p":3,"t":"P","x":1.58,"y":-0.39,"xe":0.1,"ye":0.1},
{"p":3,"t":"P","x":1.71,"y":-0.30,"xe":0.12,"ye":0.1},
{"p":3,"t":"P","x":1.68,"y":-0.25,"xe":0.1,"ye":0.12},
{"p":3,"t":"P","x":1.76,"y":-0.27,"xe":0.08,"ye":0.08},
{"p":3,"t":"P","x":1.94,"y":-0.25,"xe":0.05,"ye":0.05},
{"p":3,"t":"P","x":2.07,"y":-0.20,"xe":0.05,"ye":0.06},
{"p":3,"t":"P","x":2.06,"y":-0.28,"xe":0.06,"ye":0.06},
{"p":3,"t":"P","x":1.82,"y":-0.35,"xe":0.06,"ye":0.06},
{"p":3,"t":"P","x":1.59,"y":-0.60,"xe":0.1,"ye":0.12},
{"p":3,"t":"P","x":1.73,"y":-0.57,"xe":0.1,"ye":0.12},
{"p":3,"t":"P","x":1.73,"y":-0.68,"xe":0.12,"ye":0.1},
{"p":3,"t":"P","x":1.61,"y":-0.68,"xe":0.08,"ye":0.08},
{"p":3,"t":"P","x":2.08,"y":-0.54,"xe":0.06,"ye":0.08},
{"p":3,"t":"P","x":2.10,"y":-0.42,"xe":0.06,"ye":0.06},
{"p":3,"t":"P","x":2.34,"y":-0.50,"xe":0.08,"ye":0.08},
{"p":3,"t":"P","x":1.76,"y":-1.00,"xe":0.08,"ye":0.08},
{"p":3,"t":"P","x":2.67,"y":-1.09,"xe":0.08,"ye":0.12},
{"p":3,"t":"P","x":1.76,"y":-0.71,"xe":0.1,"ye":0.1},
{"p":3,"t":"P","x":1.68,"y":-0.69,"xe":0.1,"ye":0.1},
{"p":3,"t":"P","x":1.62,"y":-0.03,"xe":0.06,"ye":0.06},
{"p":4,"t":"L","x":1.43,"y":2.94,"xe":0.03,"ye":0.27},
{"p":4,"t":"L","x":1.91,"y":2.69,"xe":0.10,"ye":0.42},
{"p":4,"t":"L","x":1.62,"y":1.49,"xe":0.03,"ye":0.06},
{"p":4,"t":"L","x":1.41,"y":1.30,"xe":0.06,"ye":0.09},
{"p":4,"t":"L","x":0.74,"y":0.88,"xe":0,"ye":0},
{"p":4,"t":"L","x":0.72,"y":0.55,"xe":0.02,"ye":0.02},
{"p":4,"t":"L","x":0.07,"y":0.56,"xe":0.26,"ye":0.12},
{"p":4,"t":"L","x":-0.10,"y":0.44,"xe":0.35,"ye":0.17},
{"p":4,"t":"L","x":1.43,"y":0.47,"xe":0.1,"ye":0.12},
{"p":4,"t":"L","x":1.43,"y":0.42,"xe":0.12,"ye":0.1},
{"p":4,"t":"L","x":0.54,"y":0.31,"xe":0.08,"ye":0.08},
{"p":4,"t":"L","x":0.81,"y":0.30,"xe":0.02,"ye":0.02},
{"p":4,"t":"L","x":0.65,"y":0.15,"xe":0.15,"ye":0.12},
{"p":4,"t":"L","x":1.00,"y":0.17,"xe":0.15,"ye":0.1},
{"p":4,"t":"L","x":1.09,"y":0.18,"xe":0.08,"ye":0.1},
{"p":4,"t":"L","x":1.15,"y":0.20,"xe":0.1,"ye":0.08},
{"p":4,"t":"L","x":1.42,"y":0.19,"xe":0.02,"ye":0.02},
{"p":4,"t":"L","x":0.92,"y":0.08,"xe":0.02,"ye":0.02},
{"p":4,"t":"L","x":1.33,"y":0.08,"xe":0.08,"ye":0.1},
{"p":4,"t":"L","x":0.55,"y":0.03,"xe":0.15,"ye":0.1},
{"p":4,"t":"L","x":0.36,"y":-0.06,"xe":0.2,"ye":0.08},
{"p":4,"t":"L","x":0.46,"y":-0.09,"xe":0.1,"ye":0.1},
{"p":4,"t":"L","x":0.67,"y":-0.13,"xe":0.1,"ye":0.1},
{"p":4,"t":"L","x":0.80,"y":-0.09,"xe":0.02,"ye":0.02},
{"p":4,"t":"L","x":1.21,"y":-0.04,"xe":0.12,"ye":0.1},
{"p":4,"t":"L","x":1.32,"y":0.06,"xe":0.1,"ye":0.08},
{"p":4,"t":"L","x":1.49,"y":-0.07,"xe":0.08,"ye":0.1},
{"p":4,"t":"L","x":0.70,"y":-0.29,"xe":0.12,"ye":0.1},
{"p":4,"t":"L","x":0.78,"y":-0.27,"xe":0.1,"ye":0.1},
{"p":4,"t":"L","x":1.08,"y":-0.25,"xe":0.1,"ye":0.1},
{"p":4,"t":"L","x":1.43,"y":-0.25,"xe":0.12,"ye":0.1},
{"p":4,"t":"L","x":1.51,"y":-0.31,"xe":0.1,"ye":0.12},
{"p":4,"t":"L","x":1.54,"y":-0.39,"xe":0.1,"ye":0.1},
{"p":4,"t":"L","x":1.16,"y":-0.42,"xe":0.02,"ye":0.02},
{"p":4,"t":"L","x":1.16,"y":-0.51,"xe":0.02,"ye":0.02},
{"p":4,"t":"L","x":1.43,"y":-0.51,"xe":0.12,"ye":0.15},
{"p":4,"t":"L","x":1.81,"y":-0.41,"xe":0.08,"ye":0.08},
{"p":4,"t":"L","x":0.97,"y":-0.71,"xe":0.08,"ye":0.1},
{"p":4,"t":"L","x":1.17,"y":-0.62,"xe":0.1,"ye":0.1},
{"p":4,"t":"L","x":1.33,"y":-0.71,"xe":0.12,"ye":0.15},
{"p":4,"t":"L","x":1.45,"y":-0.85,"xe":0.12,"ye":0.1},
{"p":4,"t":"L","x":1.52,"y":-0.85,"xe":0.1,"ye":0.1},
{"p":4,"t":"L","x":0.90,"y":-1.00,"xe":0.18,"ye":0.12},
{"p":4,"t":"L","x":2.15,"y":-1.03,"xe":0.16,"ye":0.12},
{"p":4,"t":"P","x":0.15,"y":0.62,"xe":0.05,"ye":0.02},
{"p":4,"t":"P","x":0.43,"y":0.59,"xe":0.05,"ye":0.02},
{"p":4,"t":"P","x":0.72,"y":0.55,"xe":0,"ye":0},
{"p":4,"t":"P","x":0.13,"y":0.38,"xe":0.08,"ye":0.02},
{"p":4,"t":"P","x":-0.31,"y":0.33,"xe":0.12,"ye":0.03},
{"p":4,"t":"P","x":1.33,"y":0.30,"xe":0.11,"ye":0.1},
{"p":4,"t":"P","x":1.93,"y":0.39,"xe":0.08,"ye":0.08},
{"p":4,"t":"P","x":2.25,"y":0.33,"xe":0.06,"ye":0.08},
{"p":4,"t":"P","x":0.81,"y":0.30,"xe":0,"ye":0},
{"p":4,"t":"P","x":0.77,"y":0.14,"xe":0.1,"ye":0.05},
{"p":4,"t":"P","x":1.42,"y":0.19,"xe":0,"ye":0},
{"p":4,"t":"P","x":0.92,"y":0.08,"xe":0,"ye":0},
{"p":4,"t":"P","x":0.64,"y":0.02,"xe":0.12,"ye":0.08},
{"p":4,"t":"P","x":-0.15,"y":0.02,"xe":0.14,"ye":0.03},
{"p":4,"t":"P","x":-0.24,"y":-0.15,"xe":0.17,"ye":0.03},
{"p":4,"t":"P","x":0.51,"y":-0.10,"xe":0.05,"ye":0.03},
{"p":4,"t":"P","x":0.51,"y":-0.17,"xe":0.05,"ye":0.03},
{"p":4,"t":"P","x":0.42,"y":-0.23,"xe":0,"ye":0},
{"p":4,"t":"P","x":0.80,"y":-0.09,"xe":0,"ye":0},
{"p":4,"t":"P","x":1.10,"y":-0.03,"xe":0.08,"ye":0.08},
{"p":4,"t":"P","x":1.12,"y":-0.09,"xe":0.06,"ye":0.08},
{"p":4,"t":"P","x":1.13,"y":-0.13,"xe":0.08,"ye":0.08},
{"p":4,"t":"P","x":1.22,"y":0.00,"xe":0.06,"ye":0.08},
{"p":4,"t":"P","x":1.28,"y":0.02,"xe":0.08,"ye":0.08},
{"p":4,"t":"P","x":1.35,"y":-0.09,"xe":0.1,"ye":0.1},
{"p":4,"t":"P","x":1.47,"y":-0.19,"xe":0.05,"ye":0.05},
{"p":4,"t":"P","x":1.70,"y":-0.18,"xe":0.06,"ye":0.08},
{"p":4,"t":"P","x":1.82,"y":-0.37,"xe":0.06,"ye":0.05},
{"p":4,"t":"P","x":2.15,"y":-0.31,"xe":0.05,"ye":0.04},
{"p":4,"t":"P","x":0.79,"y":-0.36,"xe":0.1,"ye":0.12},
{"p":4,"t":"P","x":0.88,"y":-0.32,"xe":0.08,"ye":0.06},
{"p":4,"t":"P","x":0.94,"y":-0.30,"xe":0.08,"ye":0.06},
{"p":4,"t":"P","x":1.04,"y":-0.35,"xe":0.08,"ye":0.06},
{"p":4,"t":"P","x":1.33,"y":-0.29,"xe":0.08,"ye":0.06},
{"p":4,"t":"P","x":1.16,"y":-0.42,"xe":0,"ye":0},
{"p":4,"t":"P","x":1.16,"y":-0.51,"xe":0,"ye":0},
{"p":4,"t":"P","x":0.08,"y":-0.40,"xe":0.12,"ye":0.06},
{"p":4,"t":"P","x":0.42,"y":-0.49,"xe":0.12,"ye":0.1},
{"p":4,"t":"P","x":0.35,"y":-0.57,"xe":0.3,"ye":0.1},
{"p":4,"t":"P","x":0.96,"y":-0.60,"xe":0.08,"ye":0.06},
{"p":4,"t":"P","x":1.02,"y":-0.63,"xe":0.08,"ye":0.06},
{"p":4,"t":"P","x":0.97,"y":-0.68,"xe":0.06,"ye":0.06},
{"p":4,"t":"P","x":0.55,"y":-0.81,"xe":0.12,"ye":0.06},
{"p":4,"t":"P","x":1.55,"y":-0.85,"xe":0.17,"ye":0.08},
{"p":4,"t":"P","x":2.00,"y":-0.68,"xe":0.12,"ye":0.1},
{"p":4,"t":"P","x":0.26,"y":-1.13,"xe":0.27,"ye":0.12}
],
"notes":[
{"p":1,"k":"a","x":-0.12,"y":1.60,"s":"Red Continuum &\nWeak Lines"},
{"p":1,"k":"a","x":2.0,"y":-1.20,"s":"Blue Continuum &\nStrong Lines"},
{"p":1,"k":"b","x":2.56,"y":2.80,"s":"F410M"},
{"p":1,"k":"c","x":0.21,"y":2.80,"s":"H𝛼: 4.89 ≤ 𝑧 ≤ 5.56\n[OIII] + H𝛽: 6.72 ≤ 𝑧 ≤ 7.85"},
{"p":2,"k":"a","x":-0.12,"y":1.40,"s":"Red Continuum &\nWeak Lines"},
{"p":2,"k":"a","x":2.29,"y":-1.355,"s":"Blue Continuum &\nStrong Lines"},
{"p":2,"k":"b","x":2.56,"y":2.255,"s":"F430M"},
{"p":2,"k":"c","x":0.21,"y":2.80,"s":"H𝛼: 5.35 ≤ 𝑧 ≤ 5.70\n[OIII] + H𝛽: 7.32 ≤ 𝑧 ≤ 8.05"},
{"p":3,"k":"a","x":-0.02,"y":1.20,"s":"Red Continuum &\nWeak Lines"},
{"p":3,"k":"a","x":2.0,"y":-1.355,"s":"Blue Continuum &\nStrong Lines"},
{"p":3,"k":"b","x":2.56,"y":2.80,"s":"F460M"},
{"p":3,"k":"c","x":0.21,"y":2.80,"s":"H𝛼: 5.88 ≤ 𝑧 ≤ 6.32\n[OIII] + H𝛽: 8.02 ≤ 𝑧 ≤ 8.77"},
{"p":4,"k":"a","x":-0.12,"y":1.20,"s":"Red Continuum &\nWeak Lines"},
{"p":4,"k":"a","x":2.23,"y":-1.30,"s":"Blue Continuum &\nStrong Lines"},
{"p":4,"k":"b","x":2.56,"y":2.80,"s":"F480M"},
{"p":4,"k":"c","x":0.21,"y":2.80,"s":"H𝛼: 6.10 ≤ 𝑧 ≤ 6.58\n[OIII] + H𝛽: 8.31 ≤ 𝑧 ≤ 9.23"}
]
},
"columns":2,
"bounds":"flush",
"spacing":{"row":99,"column":92},
"concat":[
{"width":511,"height":517,
"encoding":{"x":{"field":"x","type":"quantitative","scale":{"domain":[-0.9,3.0],"nice":false,"zero":false},"axis":{"title":"F360M - F410M","values":[-0.5,0,0.5,1,1.5,2,2.5,3],"format":".1f","titlePadding":8}},"y":{"field":"y","type":"quantitative","scale":{"domain":[-1.7,3.0],"nice":false,"zero":false},"axis":{"title":"F150W - F360M","values":[-1,0,1,2,3],"format":"d"}}},
"layer":[
{"data":{"name":"pts"},"transform":[{"filter":"datum.p==1 && datum.t=='L'"}],"mark":{"type":"errorbar","color":"#30d9ec","thickness":2,"clip":true},"encoding":{"xError":{"field":"xe"}}},
{"data":{"name":"pts"},"transform":[{"filter":"datum.p==1 && datum.t=='L'"}],"mark":{"type":"errorbar","color":"#30d9ec","thickness":2,"clip":true},"encoding":{"yError":{"field":"ye"}}},
{"data":{"name":"pts"},"transform":[{"filter":"datum.p==1 && datum.t=='L'"}],"mark":{"type":"point","filled":true,"size":64,"opacity":1},"encoding":{"color":{"field":"t","type":"nominal","scale":{"domain":["L","P"],"range":["#30d9ec","#0a9a6e"]},"legend":null},"shape":{"field":"t","type":"nominal","scale":{"domain":["L","P"],"range":["square","M-1,-0.6L-0.6,-1L0,-0.4L0.6,-1L1,-0.6L0.4,0L1,0.6L0.6,1L0,0.4L-0.6,1L-1,0.6L-0.4,0Z"]},"legend":null}}},
{"data":{"name":"pts"},"transform":[{"filter":"datum.p==1 && datum.t=='P'"}],"mark":{"type":"errorbar","color":"#0a9a6e","thickness":2,"clip":true},"encoding":{"xError":{"field":"xe"}}},
{"data":{"name":"pts"},"transform":[{"filter":"datum.p==1 && datum.t=='P'"}],"mark":{"type":"errorbar","color":"#0a9a6e","thickness":2,"clip":true},"encoding":{"yError":{"field":"ye"}}},
{"data":{"name":"pts"},"transform":[{"filter":"datum.p==1 && datum.t=='P'"}],"mark":{"type":"point","filled":true,"size":45,"opacity":1},"encoding":{"color":{"field":"t","type":"nominal","scale":{"domain":["L","P"],"range":["#30d9ec","#0a9a6e"]},"legend":null},"shape":{"field":"t","type":"nominal","scale":{"domain":["L","P"],"range":["square","M-1,-0.6L-0.6,-1L0,-0.4L0.6,-1L1,-0.6L0.4,0L1,0.6L0.6,1L0,0.4L-0.6,1L-1,0.6L-0.4,0Z"]},"legend":null}}},
{"data":{"name":"notes"},"transform":[{"filter":"datum.p==1 && datum.k=='a'"}],"mark":{"type":"text","fontSize":20,"lineBreak":"\n","lineHeight":23,"align":"center","baseline":"middle","color":"black"},"encoding":{"text":{"field":"s"}}},
{"data":{"name":"notes"},"transform":[{"filter":"datum.p==1 && datum.k=='b'"}],"mark":{"type":"text","fontSize":28,"align":"center","baseline":"middle","color":"black"},"encoding":{"text":{"field":"s"}}},
{"data":{"name":"notes"},"transform":[{"filter":"datum.p==1 && datum.k=='c'"}],"mark":{"type":"text","fontSize":19.5,"lineBreak":"\n","lineHeight":23,"align":"center","baseline":"middle","color":"#ef55c0"},"encoding":{"text":{"field":"s"}}}
]},
{"width":511,"height":517,
"encoding":{"x":{"field":"x","type":"quantitative","scale":{"domain":[-0.9,3.0],"nice":false,"zero":false},"axis":{"title":"F360M - F430M","values":[-0.5,0,0.5,1,1.5,2,2.5,3],"format":".1f","titlePadding":8}},"y":{"field":"y","type":"quantitative","scale":{"domain":[-1.7,3.0],"nice":false,"zero":false},"axis":{"title":"F150W - F360M","values":[-1,0,1,2,3],"format":"d"}}},
"layer":[
{"data":{"name":"pts"},"transform":[{"filter":"datum.p==2 && datum.t=='L'"}],"mark":{"type":"errorbar","color":"#30d9ec","thickness":2,"clip":true},"encoding":{"xError":{"field":"xe"}}},
{"data":{"name":"pts"},"transform":[{"filter":"datum.p==2 && datum.t=='L'"}],"mark":{"type":"errorbar","color":"#30d9ec","thickness":2,"clip":true},"encoding":{"yError":{"field":"ye"}}},
{"data":{"name":"pts"},"transform":[{"filter":"datum.p==2 && datum.t=='L'"}],"mark":{"type":"point","filled":true,"size":64,"opacity":1},"encoding":{"color":{"field":"t","type":"nominal","scale":{"domain":["L","P"],"range":["#30d9ec","#0a9a6e"]},"legend":{"title":null,"labelExpr":"datum.label=='L' ? 'Line Selected' : 'Photo-𝑧 Selected'"}},"shape":{"field":"t","type":"nominal","scale":{"domain":["L","P"],"range":["square","M-1,-0.6L-0.6,-1L0,-0.4L0.6,-1L1,-0.6L0.4,0L1,0.6L0.6,1L0,0.4L-0.6,1L-1,0.6L-0.4,0Z"]},"legend":{"title":null,"labelExpr":"datum.label=='L' ? 'Line Selected' : 'Photo-𝑧 Selected'"}}}},
{"data":{"name":"pts"},"transform":[{"filter":"datum.p==2 && datum.t=='P'"}],"mark":{"type":"errorbar","color":"#0a9a6e","thickness":2,"clip":true},"encoding":{"xError":{"field":"xe"}}},
{"data":{"name":"pts"},"transform":[{"filter":"datum.p==2 && datum.t=='P'"}],"mark":{"type":"errorbar","color":"#0a9a6e","thickness":2,"clip":true},"encoding":{"yError":{"field":"ye"}}},
{"data":{"name":"pts"},"transform":[{"filter":"datum.p==2 && datum.t=='P'"}],"mark":{"type":"point","filled":true,"size":45,"opacity":1},"encoding":{"color":{"field":"t","type":"nominal","scale":{"domain":["L","P"],"range":["#30d9ec","#0a9a6e"]},"legend":{"title":null,"labelExpr":"datum.label=='L' ? 'Line Selected' : 'Photo-𝑧 Selected'"}},"shape":{"field":"t","type":"nominal","scale":{"domain":["L","P"],"range":["square","M-1,-0.6L-0.6,-1L0,-0.4L0.6,-1L1,-0.6L0.4,0L1,0.6L0.6,1L0,0.4L-0.6,1L-1,0.6L-0.4,0Z"]},"legend":{"title":null,"labelExpr":"datum.label=='L' ? 'Line Selected' : 'Photo-𝑧 Selected'"}}}},
{"data":{"name":"notes"},"transform":[{"filter":"datum.p==2 && datum.k=='a'"}],"mark":{"type":"text","fontSize":20,"lineBreak":"\n","lineHeight":23,"align":"center","baseline":"middle","color":"black"},"encoding":{"text":{"field":"s"}}},
{"data":{"name":"notes"},"transform":[{"filter":"datum.p==2 && datum.k=='b'"}],"mark":{"type":"text","fontSize":28,"align":"center","baseline":"middle","color":"black"},"encoding":{"text":{"field":"s"}}},
{"data":{"name":"notes"},"transform":[{"filter":"datum.p==2 && datum.k=='c'"}],"mark":{"type":"text","fontSize":19.5,"lineBreak":"\n","lineHeight":23,"align":"center","baseline":"middle","color":"#ef55c0"},"encoding":{"text":{"field":"s"}}}
]},
{"width":511,"height":517,
"encoding":{"x":{"field":"x","type":"quantitative","scale":{"domain":[-0.9,3.0],"nice":false,"zero":false},"axis":{"title":"F410M - F460M","values":[-0.5,0,0.5,1,1.5,2,2.5,3],"format":".1f","titlePadding":2}},"y":{"field":"y","type":"quantitative","scale":{"domain":[-1.7,3.0],"nice":false,"zero":false},"axis":{"title":"F150W - F410M","values":[-1,0,1,2,3],"format":"d"}}},
"layer":[
{"data":{"name":"pts"},"transform":[{"filter":"datum.p==3 && datum.t=='L'"}],"mark":{"type":"errorbar","color":"#30d9ec","thickness":2,"clip":true},"encoding":{"xError":{"field":"xe"}}},
{"data":{"name":"pts"},"transform":[{"filter":"datum.p==3 && datum.t=='L'"}],"mark":{"type":"errorbar","color":"#30d9ec","thickness":2,"clip":true},"encoding":{"yError":{"field":"ye"}}},
{"data":{"name":"pts"},"transform":[{"filter":"datum.p==3 && datum.t=='L'"}],"mark":{"type":"point","filled":true,"size":64,"opacity":1},"encoding":{"color":{"field":"t","type":"nominal","scale":{"domain":["L","P"],"range":["#30d9ec","#0a9a6e"]},"legend":null},"shape":{"field":"t","type":"nominal","scale":{"domain":["L","P"],"range":["square","M-1,-0.6L-0.6,-1L0,-0.4L0.6,-1L1,-0.6L0.4,0L1,0.6L0.6,1L0,0.4L-0.6,1L-1,0.6L-0.4,0Z"]},"legend":null}}},
{"data":{"name":"pts"},"transform":[{"filter":"datum.p==3 && datum.t=='P'"}],"mark":{"type":"errorbar","color":"#0a9a6e","thickness":2,"clip":true},"encoding":{"xError":{"field":"xe"}}},
{"data":{"name":"pts"},"transform":[{"filter":"datum.p==3 && datum.t=='P'"}],"mark":{"type":"errorbar","color":"#0a9a6e","thickness":2,"clip":true},"encoding":{"yError":{"field":"ye"}}},
{"data":{"name":"pts"},"transform":[{"filter":"datum.p==3 && datum.t=='P'"}],"mark":{"type":"point","filled":true,"size":45,"opacity":1},"encoding":{"color":{"field":"t","type":"nominal","scale":{"domain":["L","P"],"range":["#30d9ec","#0a9a6e"]},"legend":null},"shape":{"field":"t","type":"nominal","scale":{"domain":["L","P"],"range":["square","M-1,-0.6L-0.6,-1L0,-0.4L0.6,-1L1,-0.6L0.4,0L1,0.6L0.6,1L0,0.4L-0.6,1L-1,0.6L-0.4,0Z"]},"legend":null}}},
{"data":{"name":"notes"},"transform":[{"filter":"datum.p==3 && datum.k=='a'"}],"mark":{"type":"text","fontSize":20,"lineBreak":"\n","lineHeight":23,"align":"center","baseline":"middle","color":"black"},"encoding":{"text":{"field":"s"}}},
{"data":{"name":"notes"},"transform":[{"filter":"datum.p==3 && datum.k=='b'"}],"mark":{"type":"text","fontSize":28,"align":"center","baseline":"middle","color":"black"},"encoding":{"text":{"field":"s"}}},
{"data":{"name":"notes"},"transform":[{"filter":"datum.p==3 && datum.k=='c'"}],"mark":{"type":"text","fontSize":19.5,"lineBreak":"\n","lineHeight":23,"align":"center","baseline":"middle","color":"#ef55c0"},"encoding":{"text":{"field":"s"}}}
]},
{"width":511,"height":517,
"title":{"text":"F480M","fontSize":24,"fontWeight":"normal","offset":-3,"color":"black","font":"DejaVu Sans"},
"encoding":{"x":{"field":"x","type":"quantitative","scale":{"domain":[-0.9,3.0],"nice":false,"zero":false},"axis":{"title":"F410M - F480M","values":[-0.5,0,0.5,1,1.5,2,2.5,3],"format":".1f","titlePadding":2}},"y":{"field":"y","type":"quantitative","scale":{"domain":[-1.7,3.0],"nice":false,"zero":false},"axis":{"title":"F150W - F410M","values":[-1,0,1,2,3],"format":"d"}}},
"layer":[
{"data":{"name":"pts"},"transform":[{"filter":"datum.p==4 && datum.t=='L'"}],"mark":{"type":"errorbar","color":"#30d9ec","thickness":2,"clip":true},"encoding":{"xError":{"field":"xe"}}},
{"data":{"name":"pts"},"transform":[{"filter":"datum.p==4 && datum.t=='L'"}],"mark":{"type":"errorbar","color":"#30d9ec","thickness":2,"clip":true},"encoding":{"yError":{"field":"ye"}}},
{"data":{"name":"pts"},"transform":[{"filter":"datum.p==4 && datum.t=='L'"}],"mark":{"type":"point","filled":true,"size":64,"opacity":1},"encoding":{"color":{"field":"t","type":"nominal","scale":{"domain":["L","P"],"range":["#30d9ec","#0a9a6e"]},"legend":null},"shape":{"field":"t","type":"nominal","scale":{"domain":["L","P"],"range":["square","M-1,-0.6L-0.6,-1L0,-0.4L0.6,-1L1,-0.6L0.4,0L1,0.6L0.6,1L0,0.4L-0.6,1L-1,0.6L-0.4,0Z"]},"legend":null}}},
{"data":{"name":"pts"},"transform":[{"filter":"datum.p==4 && datum.t=='P'"}],"mark":{"type":"errorbar","color":"#0a9a6e","thickness":2,"clip":true},"encoding":{"xError":{"field":"xe"}}},
{"data":{"name":"pts"},"transform":[{"filter":"datum.p==4 && datum.t=='P'"}],"mark":{"type":"errorbar","color":"#0a9a6e","thickness":2,"clip":true},"encoding":{"yError":{"field":"ye"}}},
{"data":{"name":"pts"},"transform":[{"filter":"datum.p==4 && datum.t=='P'"}],"mark":{"type":"point","filled":true,"size":45,"opacity":1},"encoding":{"color":{"field":"t","type":"nominal","scale":{"domain":["L","P"],"range":["#30d9ec","#0a9a6e"]},"legend":null},"shape":{"field":"t","type":"nominal","scale":{"domain":["L","P"],"range":["square","M-1,-0.6L-0.6,-1L0,-0.4L0.6,-1L1,-0.6L0.4,0L1,0.6L0.6,1L0,0.4L-0.6,1L-1,0.6L-0.4,0Z"]},"legend":null}}},
{"data":{"name":"notes"},"transform":[{"filter":"datum.p==4 && datum.k=='a'"}],"mark":{"type":"text","fontSize":20,"lineBreak":"\n","lineHeight":23,"align":"center","baseline":"middle","color":"black"},"encoding":{"text":{"field":"s"}}},
{"data":{"name":"notes"},"transform":[{"filter":"datum.p==4 && datum.k=='b'"}],"mark":{"type":"text","fontSize":28,"align":"center","baseline":"middle","color":"black"},"encoding":{"text":{"field":"s"}}},
{"data":{"name":"notes"},"transform":[{"filter":"datum.p==4 && datum.k=='c'"}],"mark":{"type":"text","fontSize":19.5,"lineBreak":"\n","lineHeight":23,"align":"center","baseline":"middle","color":"#ef55c0"},"encoding":{"text":{"field":"s"}}}
]}
],
"resolve":{"scale":{"color":"independent","shape":"independent"},"legend":{"color":"independent","shape":"independent"}},
"config":{
"font":"DejaVu Sans",
"view":{"stroke":"black","strokeWidth":1.1},
"axis":{"grid":false,"domain":false,"tickColor":"black","tickSize":5,"tickWidth":1,"labelColor":"black","labelFontSize":14,"labelPadding":6,"labelFlush":false,"labelOverlap":false,"titleFontSize":24.5,"titleFontWeight":"normal","titleColor":"black","labelFont":"DejaVu Sans","titleFont":"DejaVu Sans"},
"axisY":{"titlePadding":12},
"legend":{"orient":"top-right","offset":7,"padding":8,"fillColor":"white","strokeColor":"#cccccc","cornerRadius":4,"labelFontSize":15,"labelColor":"black","symbolSize":70,"rowPadding":5,"labelOffset":20,"symbolOffset":10,"labelFont":"DejaVu Sans"},
"text":{"font":"DejaVu Sans"}
}
}
